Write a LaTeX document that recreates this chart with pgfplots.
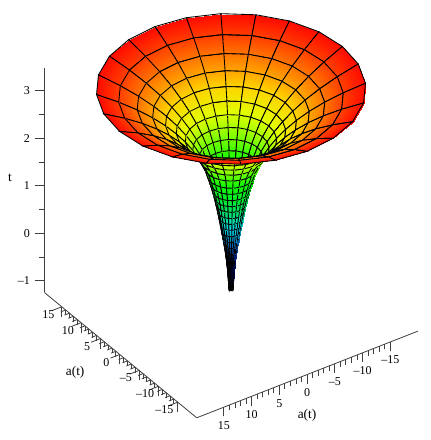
\documentclass[border=0pt]{standalone}
\usepackage{fontspec}
\setmainfont{Liberation Serif}
\usepackage{pgfplots}
\pgfplotsset{compat=1.18}
\usepgfplotslibrary{patchplots}
\begin{document}
\begin{tikzpicture}
\useasboundingbox (0,0) rectangle (323.25pt,330pt);
% surface
\begin{axis}[
  at={(173.25pt,156.4pt)}, anchor=origin,
  x={(5.02pt,0.21pt)}, y={(-0.38pt,2.81pt)}, z={(0pt,35.63pt)},
  xmin=-21, xmax=21, ymin=-21, ymax=21, zmin=-1.4, zmax=3.1,
  hide axis, clip=false,
  colormap={maple}{rgb255=(0,0,30) rgb255=(0,0,80) rgb255=(0,35,150) rgb255=(0,130,210) rgb255=(0,220,230) rgb255=(0,225,110) rgb255=(0,235,40) rgb255=(20,250,0) rgb255=(120,255,0) rgb255=(225,255,0) rgb255=(255,210,0) rgb255=(255,115,0) rgb255=(255,10,0)},
  point meta min=-1.22, point meta max=3,
]
\addplot3[surf, shader=faceted interp, faceted color=black, line width=0.65pt, z buffer=sort, mesh/rows=28, mesh/cols=25, point meta=\thisrow{t}]
 table[x expr=\thisrow{r}*cos(\thisrow{th}), y expr=\thisrow{r}*sin(\thisrow{th}), z=t] {
th t r
0 3.00 20.09
15 3.00 20.09
30 3.00 20.09
45 3.00 20.09
60 3.00 20.09
75 3.00 20.09
90 3.00 20.09
105 3.00 20.09
120 3.00 20.09
135 3.00 20.09
150 3.00 20.09
165 3.00 20.09
180 3.00 20.09
195 3.00 20.09
210 3.00 20.09
225 3.00 20.09
240 3.00 20.09
255 3.00 20.09
270 3.00 20.09
285 3.00 20.09
300 3.00 20.09
315 3.00 20.09
330 3.00 20.09
345 3.00 20.09
360 3.00 20.09
0 2.82 16.78
15 2.82 16.78
30 2.82 16.78
45 2.82 16.78
60 2.82 16.78
75 2.82 16.78
90 2.82 16.78
105 2.82 16.78
120 2.82 16.78
135 2.82 16.78
150 2.82 16.78
165 2.82 16.78
180 2.82 16.78
195 2.82 16.78
210 2.82 16.78
225 2.82 16.78
240 2.82 16.78
255 2.82 16.78
270 2.82 16.78
285 2.82 16.78
300 2.82 16.78
315 2.82 16.78
330 2.82 16.78
345 2.82 16.78
360 2.82 16.78
0 2.64 14.01
15 2.64 14.01
30 2.64 14.01
45 2.64 14.01
60 2.64 14.01
75 2.64 14.01
90 2.64 14.01
105 2.64 14.01
120 2.64 14.01
135 2.64 14.01
150 2.64 14.01
165 2.64 14.01
180 2.64 14.01
195 2.64 14.01
210 2.64 14.01
225 2.64 14.01
240 2.64 14.01
255 2.64 14.01
270 2.64 14.01
285 2.64 14.01
300 2.64 14.01
315 2.64 14.01
330 2.64 14.01
345 2.64 14.01
360 2.64 14.01
0 2.46 11.70
15 2.46 11.70
30 2.46 11.70
45 2.46 11.70
60 2.46 11.70
75 2.46 11.70
90 2.46 11.70
105 2.46 11.70
120 2.46 11.70
135 2.46 11.70
150 2.46 11.70
165 2.46 11.70
180 2.46 11.70
195 2.46 11.70
210 2.46 11.70
225 2.46 11.70
240 2.46 11.70
255 2.46 11.70
270 2.46 11.70
285 2.46 11.70
300 2.46 11.70
315 2.46 11.70
330 2.46 11.70
345 2.46 11.70
360 2.46 11.70
0 2.28 9.78
15 2.28 9.78
30 2.28 9.78
45 2.28 9.78
60 2.28 9.78
75 2.28 9.78
90 2.28 9.78
105 2.28 9.78
120 2.28 9.78
135 2.28 9.78
150 2.28 9.78
165 2.28 9.78
180 2.28 9.78
195 2.28 9.78
210 2.28 9.78
225 2.28 9.78
240 2.28 9.78
255 2.28 9.78
270 2.28 9.78
285 2.28 9.78
300 2.28 9.78
315 2.28 9.78
330 2.28 9.78
345 2.28 9.78
360 2.28 9.78
0 2.10 8.17
15 2.10 8.17
30 2.10 8.17
45 2.10 8.17
60 2.10 8.17
75 2.10 8.17
90 2.10 8.17
105 2.10 8.17
120 2.10 8.17
135 2.10 8.17
150 2.10 8.17
165 2.10 8.17
180 2.10 8.17
195 2.10 8.17
210 2.10 8.17
225 2.10 8.17
240 2.10 8.17
255 2.10 8.17
270 2.10 8.17
285 2.10 8.17
300 2.10 8.17
315 2.10 8.17
330 2.10 8.17
345 2.10 8.17
360 2.10 8.17
0 1.92 6.82
15 1.92 6.82
30 1.92 6.82
45 1.92 6.82
60 1.92 6.82
75 1.92 6.82
90 1.92 6.82
105 1.92 6.82
120 1.92 6.82
135 1.92 6.82
150 1.92 6.82
165 1.92 6.82
180 1.92 6.82
195 1.92 6.82
210 1.92 6.82
225 1.92 6.82
240 1.92 6.82
255 1.92 6.82
270 1.92 6.82
285 1.92 6.82
300 1.92 6.82
315 1.92 6.82
330 1.92 6.82
345 1.92 6.82
360 1.92 6.82
0 1.74 5.70
15 1.74 5.70
30 1.74 5.70
45 1.74 5.70
60 1.74 5.70
75 1.74 5.70
90 1.74 5.70
105 1.74 5.70
120 1.74 5.70
135 1.74 5.70
150 1.74 5.70
165 1.74 5.70
180 1.74 5.70
195 1.74 5.70
210 1.74 5.70
225 1.74 5.70
240 1.74 5.70
255 1.74 5.70
270 1.74 5.70
285 1.74 5.70
300 1.74 5.70
315 1.74 5.70
330 1.74 5.70
345 1.74 5.70
360 1.74 5.70
0 1.56 4.76
15 1.56 4.76
30 1.56 4.76
45 1.56 4.76
60 1.56 4.76
75 1.56 4.76
90 1.56 4.76
105 1.56 4.76
120 1.56 4.76
135 1.56 4.76
150 1.56 4.76
165 1.56 4.76
180 1.56 4.76
195 1.56 4.76
210 1.56 4.76
225 1.56 4.76
240 1.56 4.76
255 1.56 4.76
270 1.56 4.76
285 1.56 4.76
300 1.56 4.76
315 1.56 4.76
330 1.56 4.76
345 1.56 4.76
360 1.56 4.76
0 1.38 4.05
15 1.38 4.05
30 1.38 4.05
45 1.38 4.05
60 1.38 4.05
75 1.38 4.05
90 1.38 4.05
105 1.38 4.05
120 1.38 4.05
135 1.38 4.05
150 1.38 4.05
165 1.38 4.05
180 1.38 4.05
195 1.38 4.05
210 1.38 4.05
225 1.38 4.05
240 1.38 4.05
255 1.38 4.05
270 1.38 4.05
285 1.38 4.05
300 1.38 4.05
315 1.38 4.05
330 1.38 4.05
345 1.38 4.05
360 1.38 4.05
0 1.19 3.55
15 1.19 3.55
30 1.19 3.55
45 1.19 3.55
60 1.19 3.55
75 1.19 3.55
90 1.19 3.55
105 1.19 3.55
120 1.19 3.55
135 1.19 3.55
150 1.19 3.55
165 1.19 3.55
180 1.19 3.55
195 1.19 3.55
210 1.19 3.55
225 1.19 3.55
240 1.19 3.55
255 1.19 3.55
270 1.19 3.55
285 1.19 3.55
300 1.19 3.55
315 1.19 3.55
330 1.19 3.55
345 1.19 3.55
360 1.19 3.55
0 1.03 3.15
15 1.03 3.15
30 1.03 3.15
45 1.03 3.15
60 1.03 3.15
75 1.03 3.15
90 1.03 3.15
105 1.03 3.15
120 1.03 3.15
135 1.03 3.15
150 1.03 3.15
165 1.03 3.15
180 1.03 3.15
195 1.03 3.15
210 1.03 3.15
225 1.03 3.15
240 1.03 3.15
255 1.03 3.15
270 1.03 3.15
285 1.03 3.15
300 1.03 3.15
315 1.03 3.15
330 1.03 3.15
345 1.03 3.15
360 1.03 3.15
0 0.87 2.80
15 0.87 2.80
30 0.87 2.80
45 0.87 2.80
60 0.87 2.80
75 0.87 2.80
90 0.87 2.80
105 0.87 2.80
120 0.87 2.80
135 0.87 2.80
150 0.87 2.80
165 0.87 2.80
180 0.87 2.80
195 0.87 2.80
210 0.87 2.80
225 0.87 2.80
240 0.87 2.80
255 0.87 2.80
270 0.87 2.80
285 0.87 2.80
300 0.87 2.80
315 0.87 2.80
330 0.87 2.80
345 0.87 2.80
360 0.87 2.80
0 0.72 2.50
15 0.72 2.50
30 0.72 2.50
45 0.72 2.50
60 0.72 2.50
75 0.72 2.50
90 0.72 2.50
105 0.72 2.50
120 0.72 2.50
135 0.72 2.50
150 0.72 2.50
165 0.72 2.50
180 0.72 2.50
195 0.72 2.50
210 0.72 2.50
225 0.72 2.50
240 0.72 2.50
255 0.72 2.50
270 0.72 2.50
285 0.72 2.50
300 0.72 2.50
315 0.72 2.50
330 0.72 2.50
345 0.72 2.50
360 0.72 2.50
0 0.58 2.25
15 0.58 2.25
30 0.58 2.25
45 0.58 2.25
60 0.58 2.25
75 0.58 2.25
90 0.58 2.25
105 0.58 2.25
120 0.58 2.25
135 0.58 2.25
150 0.58 2.25
165 0.58 2.25
180 0.58 2.25
195 0.58 2.25
210 0.58 2.25
225 0.58 2.25
240 0.58 2.25
255 0.58 2.25
270 0.58 2.25
285 0.58 2.25
300 0.58 2.25
315 0.58 2.25
330 0.58 2.25
345 0.58 2.25
360 0.58 2.25
0 0.43 2.02
15 0.43 2.02
30 0.43 2.02
45 0.43 2.02
60 0.43 2.02
75 0.43 2.02
90 0.43 2.02
105 0.43 2.02
120 0.43 2.02
135 0.43 2.02
150 0.43 2.02
165 0.43 2.02
180 0.43 2.02
195 0.43 2.02
210 0.43 2.02
225 0.43 2.02
240 0.43 2.02
255 0.43 2.02
270 0.43 2.02
285 0.43 2.02
300 0.43 2.02
315 0.43 2.02
330 0.43 2.02
345 0.43 2.02
360 0.43 2.02
0 0.29 1.80
15 0.29 1.80
30 0.29 1.80
45 0.29 1.80
60 0.29 1.80
75 0.29 1.80
90 0.29 1.80
105 0.29 1.80
120 0.29 1.80
135 0.29 1.80
150 0.29 1.80
165 0.29 1.80
180 0.29 1.80
195 0.29 1.80
210 0.29 1.80
225 0.29 1.80
240 0.29 1.80
255 0.29 1.80
270 0.29 1.80
285 0.29 1.80
300 0.29 1.80
315 0.29 1.80
330 0.29 1.80
345 0.29 1.80
360 0.29 1.80
0 0.15 1.60
15 0.15 1.60
30 0.15 1.60
45 0.15 1.60
60 0.15 1.60
75 0.15 1.60
90 0.15 1.60
105 0.15 1.60
120 0.15 1.60
135 0.15 1.60
150 0.15 1.60
165 0.15 1.60
180 0.15 1.60
195 0.15 1.60
210 0.15 1.60
225 0.15 1.60
240 0.15 1.60
255 0.15 1.60
270 0.15 1.60
285 0.15 1.60
300 0.15 1.60
315 0.15 1.60
330 0.15 1.60
345 0.15 1.60
360 0.15 1.60
0 0.00 1.40
15 0.00 1.40
30 0.00 1.40
45 0.00 1.40
60 0.00 1.40
75 0.00 1.40
90 0.00 1.40
105 0.00 1.40
120 0.00 1.40
135 0.00 1.40
150 0.00 1.40
165 0.00 1.40
180 0.00 1.40
195 0.00 1.40
210 0.00 1.40
225 0.00 1.40
240 0.00 1.40
255 0.00 1.40
270 0.00 1.40
285 0.00 1.40
300 0.00 1.40
315 0.00 1.40
330 0.00 1.40
345 0.00 1.40
360 0.00 1.40
0 -0.14 1.20
15 -0.14 1.20
30 -0.14 1.20
45 -0.14 1.20
60 -0.14 1.20
75 -0.14 1.20
90 -0.14 1.20
105 -0.14 1.20
120 -0.14 1.20
135 -0.14 1.20
150 -0.14 1.20
165 -0.14 1.20
180 -0.14 1.20
195 -0.14 1.20
210 -0.14 1.20
225 -0.14 1.20
240 -0.14 1.20
255 -0.14 1.20
270 -0.14 1.20
285 -0.14 1.20
300 -0.14 1.20
315 -0.14 1.20
330 -0.14 1.20
345 -0.14 1.20
360 -0.14 1.20
0 -0.28 1.02
15 -0.28 1.02
30 -0.28 1.02
45 -0.28 1.02
60 -0.28 1.02
75 -0.28 1.02
90 -0.28 1.02
105 -0.28 1.02
120 -0.28 1.02
135 -0.28 1.02
150 -0.28 1.02
165 -0.28 1.02
180 -0.28 1.02
195 -0.28 1.02
210 -0.28 1.02
225 -0.28 1.02
240 -0.28 1.02
255 -0.28 1.02
270 -0.28 1.02
285 -0.28 1.02
300 -0.28 1.02
315 -0.28 1.02
330 -0.28 1.02
345 -0.28 1.02
360 -0.28 1.02
0 -0.42 0.85
15 -0.42 0.85
30 -0.42 0.85
45 -0.42 0.85
60 -0.42 0.85
75 -0.42 0.85
90 -0.42 0.85
105 -0.42 0.85
120 -0.42 0.85
135 -0.42 0.85
150 -0.42 0.85
165 -0.42 0.85
180 -0.42 0.85
195 -0.42 0.85
210 -0.42 0.85
225 -0.42 0.85
240 -0.42 0.85
255 -0.42 0.85
270 -0.42 0.85
285 -0.42 0.85
300 -0.42 0.85
315 -0.42 0.85
330 -0.42 0.85
345 -0.42 0.85
360 -0.42 0.85
0 -0.55 0.72
15 -0.55 0.72
30 -0.55 0.72
45 -0.55 0.72
60 -0.55 0.72
75 -0.55 0.72
90 -0.55 0.72
105 -0.55 0.72
120 -0.55 0.72
135 -0.55 0.72
150 -0.55 0.72
165 -0.55 0.72
180 -0.55 0.72
195 -0.55 0.72
210 -0.55 0.72
225 -0.55 0.72
240 -0.55 0.72
255 -0.55 0.72
270 -0.55 0.72
285 -0.55 0.72
300 -0.55 0.72
315 -0.55 0.72
330 -0.55 0.72
345 -0.55 0.72
360 -0.55 0.72
0 -0.69 0.60
15 -0.69 0.60
30 -0.69 0.60
45 -0.69 0.60
60 -0.69 0.60
75 -0.69 0.60
90 -0.69 0.60
105 -0.69 0.60
120 -0.69 0.60
135 -0.69 0.60
150 -0.69 0.60
165 -0.69 0.60
180 -0.69 0.60
195 -0.69 0.60
210 -0.69 0.60
225 -0.69 0.60
240 -0.69 0.60
255 -0.69 0.60
270 -0.69 0.60
285 -0.69 0.60
300 -0.69 0.60
315 -0.69 0.60
330 -0.69 0.60
345 -0.69 0.60
360 -0.69 0.60
0 -0.82 0.50
15 -0.82 0.50
30 -0.82 0.50
45 -0.82 0.50
60 -0.82 0.50
75 -0.82 0.50
90 -0.82 0.50
105 -0.82 0.50
120 -0.82 0.50
135 -0.82 0.50
150 -0.82 0.50
165 -0.82 0.50
180 -0.82 0.50
195 -0.82 0.50
210 -0.82 0.50
225 -0.82 0.50
240 -0.82 0.50
255 -0.82 0.50
270 -0.82 0.50
285 -0.82 0.50
300 -0.82 0.50
315 -0.82 0.50
330 -0.82 0.50
345 -0.82 0.50
360 -0.82 0.50
0 -0.96 0.42
15 -0.96 0.42
30 -0.96 0.42
45 -0.96 0.42
60 -0.96 0.42
75 -0.96 0.42
90 -0.96 0.42
105 -0.96 0.42
120 -0.96 0.42
135 -0.96 0.42
150 -0.96 0.42
165 -0.96 0.42
180 -0.96 0.42
195 -0.96 0.42
210 -0.96 0.42
225 -0.96 0.42
240 -0.96 0.42
255 -0.96 0.42
270 -0.96 0.42
285 -0.96 0.42
300 -0.96 0.42
315 -0.96 0.42
330 -0.96 0.42
345 -0.96 0.42
360 -0.96 0.42
0 -1.09 0.36
15 -1.09 0.36
30 -1.09 0.36
45 -1.09 0.36
60 -1.09 0.36
75 -1.09 0.36
90 -1.09 0.36
105 -1.09 0.36
120 -1.09 0.36
135 -1.09 0.36
150 -1.09 0.36
165 -1.09 0.36
180 -1.09 0.36
195 -1.09 0.36
210 -1.09 0.36
225 -1.09 0.36
240 -1.09 0.36
255 -1.09 0.36
270 -1.09 0.36
285 -1.09 0.36
300 -1.09 0.36
315 -1.09 0.36
330 -1.09 0.36
345 -1.09 0.36
360 -1.09 0.36
0 -1.22 0.30
15 -1.22 0.30
30 -1.22 0.30
45 -1.22 0.30
60 -1.22 0.30
75 -1.22 0.30
90 -1.22 0.30
105 -1.22 0.30
120 -1.22 0.30
135 -1.22 0.30
150 -1.22 0.30
165 -1.22 0.30
180 -1.22 0.30
195 -1.22 0.30
210 -1.22 0.30
225 -1.22 0.30
240 -1.22 0.30
255 -1.22 0.30
270 -1.22 0.30
285 -1.22 0.30
300 -1.22 0.30
315 -1.22 0.30
330 -1.22 0.30
345 -1.22 0.30
360 -1.22 0.30
};
\end{axis}
% y line on the floor, ticks run along -x
\begin{axis}[
  at={(172.6pt,140.4pt)}, anchor=origin,
  x={(4.16pt,1.63pt)}, y={(-2.90pt,2.385pt)}, z={(0pt,35.63pt)},
  xmin=-19.9, xmax=20, ymin=-19.9, ymax=19.5, zmin=-1.23, zmax=3.47,
  axis lines=left, hide x axis, hide z axis, axis line style={-, line width=0.6pt, black!75},
  every tick/.append style={line width=0.6pt, black!75},
  ytick={-15,-10,-5,0,5,10,15}, yticklabels={--15,--10,--5,0,5,10,15},
  minor y tick num=4,
  tick align=outside, major tick length=7.5pt, minor tick length=4pt,
  ticklabel style={font=\fontsize{9pt}{10pt}\selectfont},
  yticklabel style={anchor=center, xshift=-3pt, yshift=-3pt},
  ylabel={a(t)},
  every axis y label/.style={at={(axis cs:0,40.08,-5.19)},anchor=center},
]
\end{axis}
% x line on the floor, ticks straight down
\begin{axis}[
  at={(230.3pt,92.9pt)}, anchor=origin,
  x={(4.16pt,1.63pt)}, y={(0pt,1pt)}, z={(0pt,35.63pt)},
  xmin=-19.9, xmax=20, ymin=0, ymax=1, zmin=-1.23, zmax=3.47,
  axis lines=left, hide y axis, hide z axis, axis line style={-, line width=0.6pt, black!75},
  every tick/.append style={line width=0.6pt, black!75},
  xtick={-15,-10,-5,0,5,10,15}, xticklabels={15,10,5,0,--5,--10,--15},
  minor x tick num=4,
  tick align=outside, major tick length=7pt, minor tick length=4pt,
  ticklabel style={font=\fontsize{9pt}{10pt}\selectfont},
  xticklabel style={anchor=north},
  xlabel={a(t)},
  every axis x label/.style={at={(axis cs:0,0,-2.08)},anchor=center},
]
\end{axis}
% t axis, ticks to the left
\begin{axis}[
  at={(33pt,154.1pt)}, anchor=origin,
  x={(0pt,1pt)}, y={(1pt,0pt)}, z={(0pt,35.63pt)},
  xmin=0, xmax=1, ymin=0, ymax=1, zmin=-1.23, zmax=3.47,
  axis lines=left, hide x axis, hide y axis, axis line style={-, line width=0.6pt, black!75},
  every tick/.append style={line width=0.6pt, black!75},
  ztick={-1,0,1,2,3}, zticklabels={--1,0,1,2,3}, minor z tick num=1,
  tick align=outside, major tick length=7pt, minor tick length=4pt,
  ticklabel style={font=\fontsize{9pt}{10pt}\selectfont},
  zticklabel style={anchor=east},
  zlabel={t},
  every axis z label/.style={at={(axis cs:0,-25.5,1.19)},anchor=center},
]
\end{axis}
\end{tikzpicture}
\end{document}
